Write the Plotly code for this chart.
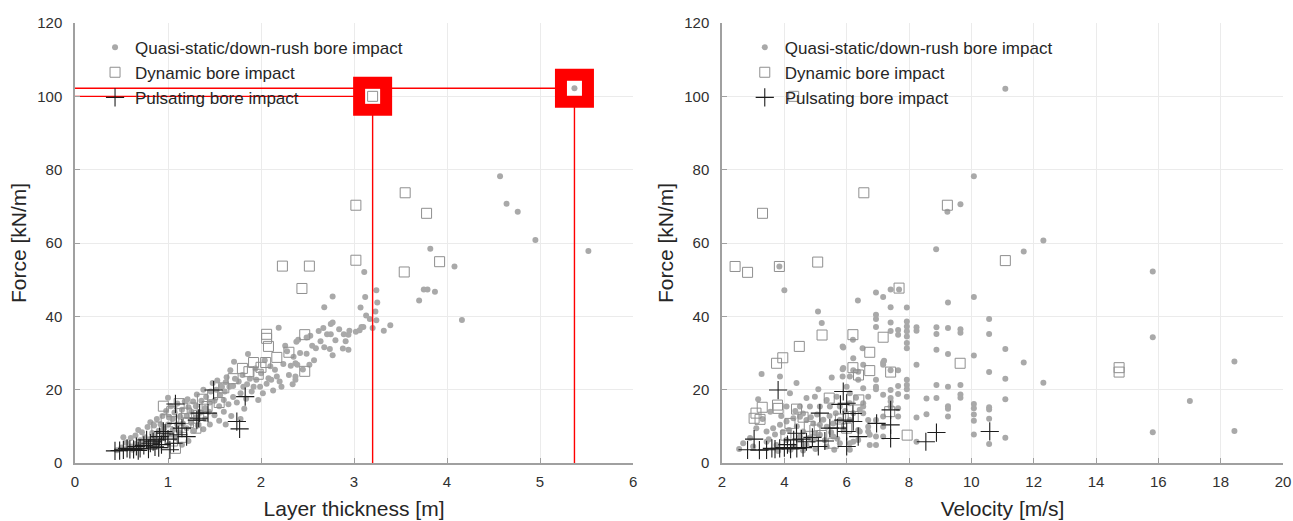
import plotly.graph_objects as go

# ---------------- data ----------------
# Left panel: force [kN/m] vs layer thickness [m]
left_qs = [
    (0.45, 3.5), (0.50, 4.2), (0.52, 7.0), (0.55, 3.8), (0.55, 5.5), (0.60, 4.5), (0.60, 6.8), (0.62, 3.6),
    (0.65, 5.2), (0.65, 7.5), (0.68, 9.0), (0.70, 4.8), (0.70, 6.2), (0.72, 8.4), (0.75, 5.8), (0.75, 7.0),
    (0.78, 9.8), (0.80, 6.5), (0.80, 4.6), (0.81, 11.1), (0.83, 8.2), (0.85, 7.4), (0.85, 10.2), (0.87, 5.6),
    (0.88, 12.0), (0.90, 8.8), (0.90, 6.2), (0.92, 10.6), (0.94, 12.8), (0.95, 7.4), (0.96, 9.5), (0.98, 14.2),
    (1.00, 17.8), (1.00, 10.5), (1.00, 8.0), (1.01, 12.4), (1.03, 15.5), (1.05, 9.0), (1.05, 12.0), (1.07, 13.8),
    (1.08, 6.8), (1.10, 10.5), (1.10, 16.2), (1.12, 8.4), (1.13, 12.6), (1.15, 14.5), (1.15, 5.0), (1.16, 10.8),
    (1.18, 16.8), (1.20, 9.5), (1.20, 12.8), (1.21, 17.4), (1.22, 15.2), (1.22, 6.0), (1.25, 11.0), (1.25, 14.0),
    (1.27, 16.8), (1.28, 8.8), (1.30, 12.5), (1.30, 15.5), (1.31, 18.7), (1.32, 10.2), (1.35, 13.8), (1.36, 17.0),
    (1.38, 20.0), (1.38, 9.2), (1.40, 12.0), (1.40, 15.0), (1.41, 18.0), (1.44, 14.0), (1.45, 16.5), (1.45, 10.5),
    (1.46, 19.5), (1.48, 21.8), (1.50, 13.0), (1.50, 17.0), (1.52, 20.0), (1.53, 22.5), (1.55, 11.5), (1.55, 15.5),
    (1.56, 18.5), (1.57, 21.0), (1.58, 20.8), (1.60, 14.0), (1.60, 17.2), (1.61, 19.5), (1.62, 22.0), (1.62, 10.5),
    (1.63, 23.4), (1.65, 16.0), (1.66, 20.8), (1.67, 25.3), (1.68, 12.8), (1.70, 18.0), (1.70, 21.0), (1.71, 27.6),
    (1.72, 23.0), (1.74, 16.5), (1.76, 22.2), (1.78, 19.0), (1.78, 12.0), (1.80, 24.0), (1.81, 20.8), (1.82, 14.8),
    (1.84, 17.5), (1.85, 21.5), (1.86, 29.7), (1.88, 23.0), (1.90, 19.5), (1.92, 20.8), (1.94, 25.8), (1.95, 22.7),
    (1.97, 17.2), (1.99, 20.8), (2.00, 24.5), (2.02, 19.0), (2.04, 28.0), (2.06, 21.6), (2.08, 23.1), (2.10, 26.4),
    (2.11, 22.7), (2.13, 19.8), (2.15, 25.4), (2.17, 23.6), (2.19, 36.9), (2.20, 22.2), (2.22, 20.8), (2.24, 27.0),
    (2.26, 32.0), (2.28, 30.5), (2.30, 24.0), (2.32, 26.5), (2.34, 21.5), (2.35, 29.0), (2.37, 23.6), (2.37, 22.7),
    (2.37, 27.2), (2.38, 33.1), (2.39, 26.8), (2.40, 33.6), (2.42, 30.0), (2.45, 25.5), (2.49, 29.8), (2.49, 34.2),
    (2.52, 26.8), (2.53, 34.7), (2.55, 32.0), (2.57, 28.0), (2.59, 31.3), (2.62, 36.0), (2.64, 33.2), (2.67, 36.8),
    (2.68, 31.6), (2.68, 42.5), (2.71, 35.1), (2.74, 31.1), (2.75, 35.1), (2.75, 37.9), (2.77, 29.4), (2.77, 38.3),
    (2.77, 45.4), (2.80, 33.5), (2.84, 36.5), (2.88, 31.2), (2.89, 35.1), (2.91, 33.2), (2.94, 30.9), (2.94, 35.0),
    (2.95, 36.1), (3.02, 35.8), (3.06, 36.2), (3.07, 42.4), (3.08, 37.1), (3.10, 37.1), (3.11, 52.1), (3.12, 45.3),
    (3.13, 40.2), (3.17, 39.3), (3.20, 36.8), (3.23, 41.3), (3.24, 38.9), (3.24, 47.1), (3.25, 43.8), (3.32, 36.1),
    (3.39, 37.6), (3.70, 44.3), (3.75, 47.3), (3.79, 47.3), (3.82, 58.4), (3.87, 46.7), (4.08, 53.6), (4.16, 39.0),
    (4.57, 78.2), (4.64, 70.7), (4.76, 68.5), (4.95, 60.8), (5.52, 57.8), (5.37, 102.2),
]
left_dyn = [
    (3.20, 100.0), (3.55, 73.7), (3.02, 70.3), (3.78, 68.1), (3.92, 54.9), (3.02, 55.3), (2.52, 53.7), (2.23, 53.7),
    (3.54, 52.1), (2.44, 47.6), (2.06, 35.1), (2.06, 34.0), (2.47, 35.0), (2.08, 31.8), (2.30, 30.2), (2.17, 28.8),
    (1.92, 27.4), (2.05, 27.4), (2.00, 26.1), (1.87, 24.9), (1.97, 24.2), (2.47, 25.0), (1.37, 17.4), (1.42, 15.4),
    (0.95, 15.5), (1.04, 14.0), (1.20, 13.6), (1.17, 12.1), (1.22, 11.0), (1.08, 4.0), (1.00, 8.5), (1.12, 16.2),
    (0.98, 11.8), (1.26, 15.0), (1.30, 9.5), (1.15, 7.0), (1.48, 18.6), (1.55, 16.5), (0.88, 9.8), (1.05, 6.0),
    (1.33, 13.0), (1.60, 20.5), (1.70, 23.0), (1.80, 25.8),
]
left_pul = [
    (1.49, 19.9), (1.83, 18.1), (1.08, 16.1), (1.74, 11.3), (1.77, 9.3), (1.34, 13.6), (1.31, 11.7), (1.09, 10.8),
    (1.20, 7.2), (1.11, 7.7), (0.95, 8.6), (0.88, 6.3), (0.77, 6.3), (0.66, 4.5), (0.52, 3.6), (0.43, 3.3),
    (0.59, 3.7), (0.70, 4.0), (0.81, 5.4), (0.91, 7.2), (1.02, 3.6), (1.06, 5.4), (1.43, 13.6), (0.97, 8.1),
    (0.84, 5.8), (0.63, 3.7), (0.48, 3.4), (0.56, 4.0), (0.74, 4.8), (0.86, 4.4), (0.93, 5.0), (1.00, 6.5),
    (1.15, 9.5), (1.33, 12.2), (0.79, 3.8), (0.68, 3.4), (0.90, 4.2),
]

# Right panel: force [kN/m] vs velocity [m/s]
right_qs = [
    (11.09, 102.1), (10.08, 78.2), (9.65, 70.6), (9.23, 68.5), (8.87, 58.3), (12.31, 60.7), (11.68, 57.7),
    (15.82, 52.2), (3.84, 53.6), (4.00, 47.1), (7.68, 47.3), (7.41, 47.3), (6.94, 46.5), (7.17, 45.3),
    (6.36, 44.3), (9.25, 43.8), (10.08, 45.3), (5.08, 41.3), (5.20, 38.2), (7.93, 42.4), (7.41, 42.5),
    (6.94, 40.4), (6.94, 39.3), (6.94, 37.1), (6.94, 22.7), (6.94, 20.8), (6.94, 20.1), (6.94, 11.7), (6.94, 7.2),
    (6.94, 4.9), (7.17, 27.4), (7.17, 26.8), (7.17, 18.6), (7.17, 12.7), (7.17, 9.9), (7.17, 7.2),
    (7.41, 38.3), (7.41, 36.0), (7.41, 25.3), (7.41, 19.9), (7.41, 17.7), (7.41, 16.8), (7.41, 15.4),
    (7.65, 36.3), (7.65, 35.0), (7.65, 25.3), (7.65, 21.0), (7.65, 18.8), (7.65, 14.9), (7.65, 12.7),
    (7.93, 38.6), (7.93, 37.2), (7.93, 35.9), (7.93, 34.5), (7.93, 32.7), (7.93, 31.3), (7.93, 22.7), (7.93, 21.3),
    (7.93, 20.1), (7.93, 18.1), (8.24, 37.0), (8.24, 36.1), (8.24, 26.8), (8.24, 12.4), (8.24, 5.8),
    (8.56, 17.6), (8.56, 13.3), (8.88, 37.0), (8.88, 35.2), (8.88, 30.9), (8.88, 21.3), (8.88, 17.7),
    (9.25, 36.8), (9.25, 29.7), (9.25, 20.8), (9.25, 15.5), (9.25, 14.8), (9.25, 12.7),
    (9.65, 36.5), (9.65, 35.5), (9.65, 21.3), (9.65, 18.7), (9.65, 17.8),
    (10.08, 29.3), (10.08, 16.1), (10.08, 14.9), (10.08, 13.2), (10.08, 11.5), (10.08, 7.8),
    (10.57, 39.3), (10.57, 35.2), (10.57, 24.8), (10.57, 15.2), (10.57, 14.6), (10.57, 12.1), (10.57, 5.2),
    (11.09, 31.1), (11.09, 23.0), (11.09, 17.4), (11.09, 6.9), (11.68, 27.4), (12.31, 21.9),
    (15.82, 34.3), (15.82, 8.4), (17.01, 16.9), (18.44, 27.7), (18.44, 8.7),
    (3.27, 24.3), (3.86, 23.6), (3.16, 17.4), (4.39, 21.8), (5.09, 20.1), (4.18, 19.0), (4.71, 17.7), (4.98, 18.1),
    (5.36, 17.2), (5.68, 18.1), (4.07, 15.4), (4.50, 15.4), (4.82, 15.4), (5.14, 15.4), (5.46, 15.4), (5.78, 15.4),
    (3.43, 8.6), (3.64, 9.5), (3.86, 10.4), (4.07, 11.3), (4.29, 12.2), (4.50, 12.6), (4.71, 11.7), (4.93, 10.8),
    (5.14, 10.4), (5.36, 9.9), (5.57, 10.8), (5.78, 11.7), (6.21, 13.6), (6.42, 14.5), (6.53, 16.3),
    (2.68, 5.4), (3.00, 4.5), (3.43, 5.8), (3.75, 4.9), (4.07, 6.3), (4.29, 4.5), (4.50, 7.2), (4.71, 4.9),
    (4.93, 6.3), (5.14, 7.7), (5.36, 4.5), (5.57, 7.2), (5.78, 5.4), (6.21, 5.8), (6.42, 8.6), (6.74, 7.7),
    (6.74, 4.9), (5.89, 31.5), (6.51, 31.3), (6.20, 33.6), (6.53, 26.8), (7.20, 27.9), (5.52, 23.3), (5.89, 25.9),
    (5.87, 31.8), (5.87, 25.6), (5.87, 23.6), (6.21, 28.6), (6.21, 25.3), (6.10, 23.6), (6.10, 19.0), (6.10, 16.3),
    (6.10, 11.7), (6.10, 5.4), (6.10, 3.6), (6.37, 24.9), (6.37, 22.7), (6.37, 9.0), (6.37, 6.3), (6.53, 20.4),
    (6.53, 15.4), (6.53, 13.6), (6.69, 18.1), (6.69, 11.7), (6.69, 9.9), (6.69, 8.6),
    (2.55, 3.8), (2.90, 6.8), (3.10, 9.5), (3.30, 12.0), (3.50, 6.5), (3.55, 14.0), (3.70, 7.8), (3.90, 12.8),
    (3.95, 8.4), (4.15, 9.0), (4.35, 14.2), (4.40, 10.0), (4.60, 8.6), (4.60, 13.5), (4.80, 6.8), (4.85, 12.5),
    (5.00, 8.2), (5.05, 13.2), (5.25, 11.8), (5.30, 6.2), (5.45, 12.8), (5.50, 8.4), (5.65, 13.6), (5.70, 6.6),
    (5.90, 9.2), (5.95, 14.2), (6.00, 20.8), (6.30, 17.8), (4.20, 3.6), (4.60, 3.4), (5.00, 3.8), (5.60, 3.6),
    (3.80, 3.3),
]
right_dyn = [
    (4.30, 100.0), (6.55, 73.7), (9.23, 70.3), (3.30, 68.1), (11.09, 55.2), (5.07, 54.8), (3.84, 53.6), (2.42, 53.6),
    (2.82, 52.0), (7.68, 47.7), (5.21, 34.9), (6.20, 35.0), (7.17, 34.3), (4.48, 31.8), (6.74, 30.2), (3.95, 28.7),
    (3.75, 27.2), (9.64, 27.2), (6.20, 26.0), (6.38, 24.0), (6.74, 25.2), (7.41, 24.8), (5.44, 17.7), (6.39, 17.2),
    (3.78, 15.8), (3.80, 14.9), (3.29, 15.2), (3.09, 13.6), (3.03, 12.2), (3.22, 11.9), (4.39, 14.7), (4.98, 9.0),
    (6.21, 12.7), (6.00, 9.5), (7.38, 14.0), (7.94, 7.6), (5.57, 5.4), (4.05, 7.6), (4.18, 10.8), (14.74, 26.0),
    (14.74, 24.8), (5.80, 12.0), (4.80, 10.0), (5.20, 7.5), (4.60, 12.5),
]
right_pul = [
    (3.80, 19.9), (3.03, 6.5), (2.82, 3.6), (3.43, 3.6), (3.70, 3.8), (3.85, 4.0), (4.00, 4.2), (4.20, 3.8),
    (4.40, 4.0), (4.39, 8.1), (5.14, 13.6), (5.46, 9.5), (5.09, 4.5), (5.89, 19.5), (6.00, 16.3), (5.89, 11.7),
    (6.21, 11.3), (6.00, 8.6), (6.00, 4.5), (6.37, 7.2), (6.96, 10.8), (7.41, 14.5), (7.41, 10.4), (7.41, 6.7),
    (8.54, 5.8), (8.88, 8.3), (10.59, 8.6), (4.71, 5.8), (4.55, 6.5), (3.60, 4.0), (3.20, 3.5), (4.90, 7.0),
    (5.70, 9.5), (4.10, 5.0), (4.30, 6.3), (4.60, 4.2), (5.30, 6.0), (6.20, 13.5), (5.80, 16.0),
]

# highlighted events in the left panel (dynamic impact, quasi-static impact)
hl_thickness = [3.20, 5.37]
hl_force = [100.0, 102.2]

series_names = ["Quasi-static/down-rush bore impact", "Dynamic bore impact", "Pulsating bore impact"]

# ---------------- styling ----------------
FONT = "Liberation Sans, Arial, sans-serif"
DOT = "#a9a9a9"
SQC = "#8f8f8f"
CRS = "#1c1c1c"
RED = "#ff0000"
GRID = "#ebebeb"
AXC = "#a0a0a0"
TXT = "#262626"


def unzip(pairs):
    return [p[0] for p in pairs], [p[1] for p in pairs]


def style(kind):
    if kind == 0:
        return dict(symbol="circle", size=6, color=DOT, line=dict(width=0))
    if kind == 1:
        return dict(symbol="square-open", size=10, color=SQC, line=dict(width=1, color=SQC))
    return dict(symbol="cross-thin-open", size=13, color=CRS, line=dict(width=1.1, color=CRS))


fig = go.Figure()
panels = [("x", "y", "legend", [left_qs, left_dyn, left_pul]),
          ("x2", "y2", "legend2", [right_qs, right_dyn, right_pul])]
for xa, ya, leg, sets in panels:
    for k, pts in enumerate(sets):
        xs, ys = unzip(pts)
        fig.add_trace(go.Scatter(x=xs, y=ys, mode="markers", name=series_names[k],
                                 xaxis=xa, yaxis=ya, legend=leg, legendgroup=f"{leg}{k}",
                                 marker=style(k), hoverinfo="x+y"))

# red guide lines and highlight boxes (left panel)
for i in range(len(hl_thickness)):
    fig.add_trace(go.Scatter(x=[0, hl_thickness[i], hl_thickness[i]], y=[hl_force[i], hl_force[i], 0],
                             mode="lines", line=dict(color=RED, width=1.4), showlegend=False,
                             hoverinfo="skip", xaxis="x", yaxis="y", cliponaxis=False))
fig.add_trace(go.Scatter(x=hl_thickness, y=hl_force, mode="markers", showlegend=False, hoverinfo="skip",
                         marker=dict(symbol="square", size=39, color=RED, line=dict(width=0)),
                         xaxis="x", yaxis="y", cliponaxis=False))
fig.add_trace(go.Scatter(x=hl_thickness, y=hl_force, mode="markers", showlegend=False, hoverinfo="skip",
                         marker=dict(symbol="square", size=15, color="white", line=dict(width=0)),
                         xaxis="x", yaxis="y", cliponaxis=False))
fig.add_trace(go.Scatter(x=hl_thickness[:1], y=hl_force[:1], mode="markers", showlegend=False,
                         marker=style(1), xaxis="x", yaxis="y"))
fig.add_trace(go.Scatter(x=hl_thickness[1:], y=hl_force[1:], mode="markers", showlegend=False,
                         marker=style(0), xaxis="x", yaxis="y"))

axis_common = dict(showgrid=True, gridcolor=GRID, gridwidth=1, zeroline=False, showline=True,
                   linecolor=AXC, linewidth=1.5, ticks="inside", ticklen=5, tickcolor=AXC, tickwidth=1,
                   tickfont=dict(family=FONT, size=15, color="#303030"), automargin=False)
legend_common = dict(bgcolor="rgba(0,0,0,0)", borderwidth=0, font=dict(family=FONT, size=17, color=TXT),
                     yanchor="top", xanchor="left", tracegroupgap=0, traceorder="grouped",
                     itemsizing="trace")
title_font = dict(family=FONT, size=21, color=TXT)

fig.update_layout(
    width=1293, height=521,
    margin=dict(l=0, r=0, t=23, b=58),
    paper_bgcolor="white", plot_bgcolor="white",
    font=dict(family=FONT, color=TXT),
    showlegend=True,
    xaxis=dict(domain=[0.058, 0.4896], range=[0, 6], dtick=1, anchor="y", ticklabelstandoff=4,
               title=dict(text="Layer thickness [m]", font=title_font, standoff=13), **axis_common),
    yaxis=dict(domain=[0, 1], range=[0, 120], dtick=20, anchor="x", ticklabelstandoff=8,
               title=dict(text="Force [kN/m]", font=title_font, standoff=5), **axis_common),
    xaxis2=dict(domain=[0.5584, 0.9923], range=[2, 20], dtick=2, anchor="y2", ticklabelstandoff=4,
                title=dict(text="Velocity [m/s]", font=title_font, standoff=13), **axis_common),
    yaxis2=dict(domain=[0, 1], range=[0, 120], dtick=20, anchor="x2", ticklabelstandoff=8,
                title=dict(text="Force [kN/m]", font=title_font, standoff=5), **axis_common),
    legend=dict(x=0.0735, y=0.985, xref="paper", yref="paper", **legend_common),
    legend2=dict(x=0.576, y=0.985, xref="paper", yref="paper", **legend_common),
)

fig.write_html("out.html")
